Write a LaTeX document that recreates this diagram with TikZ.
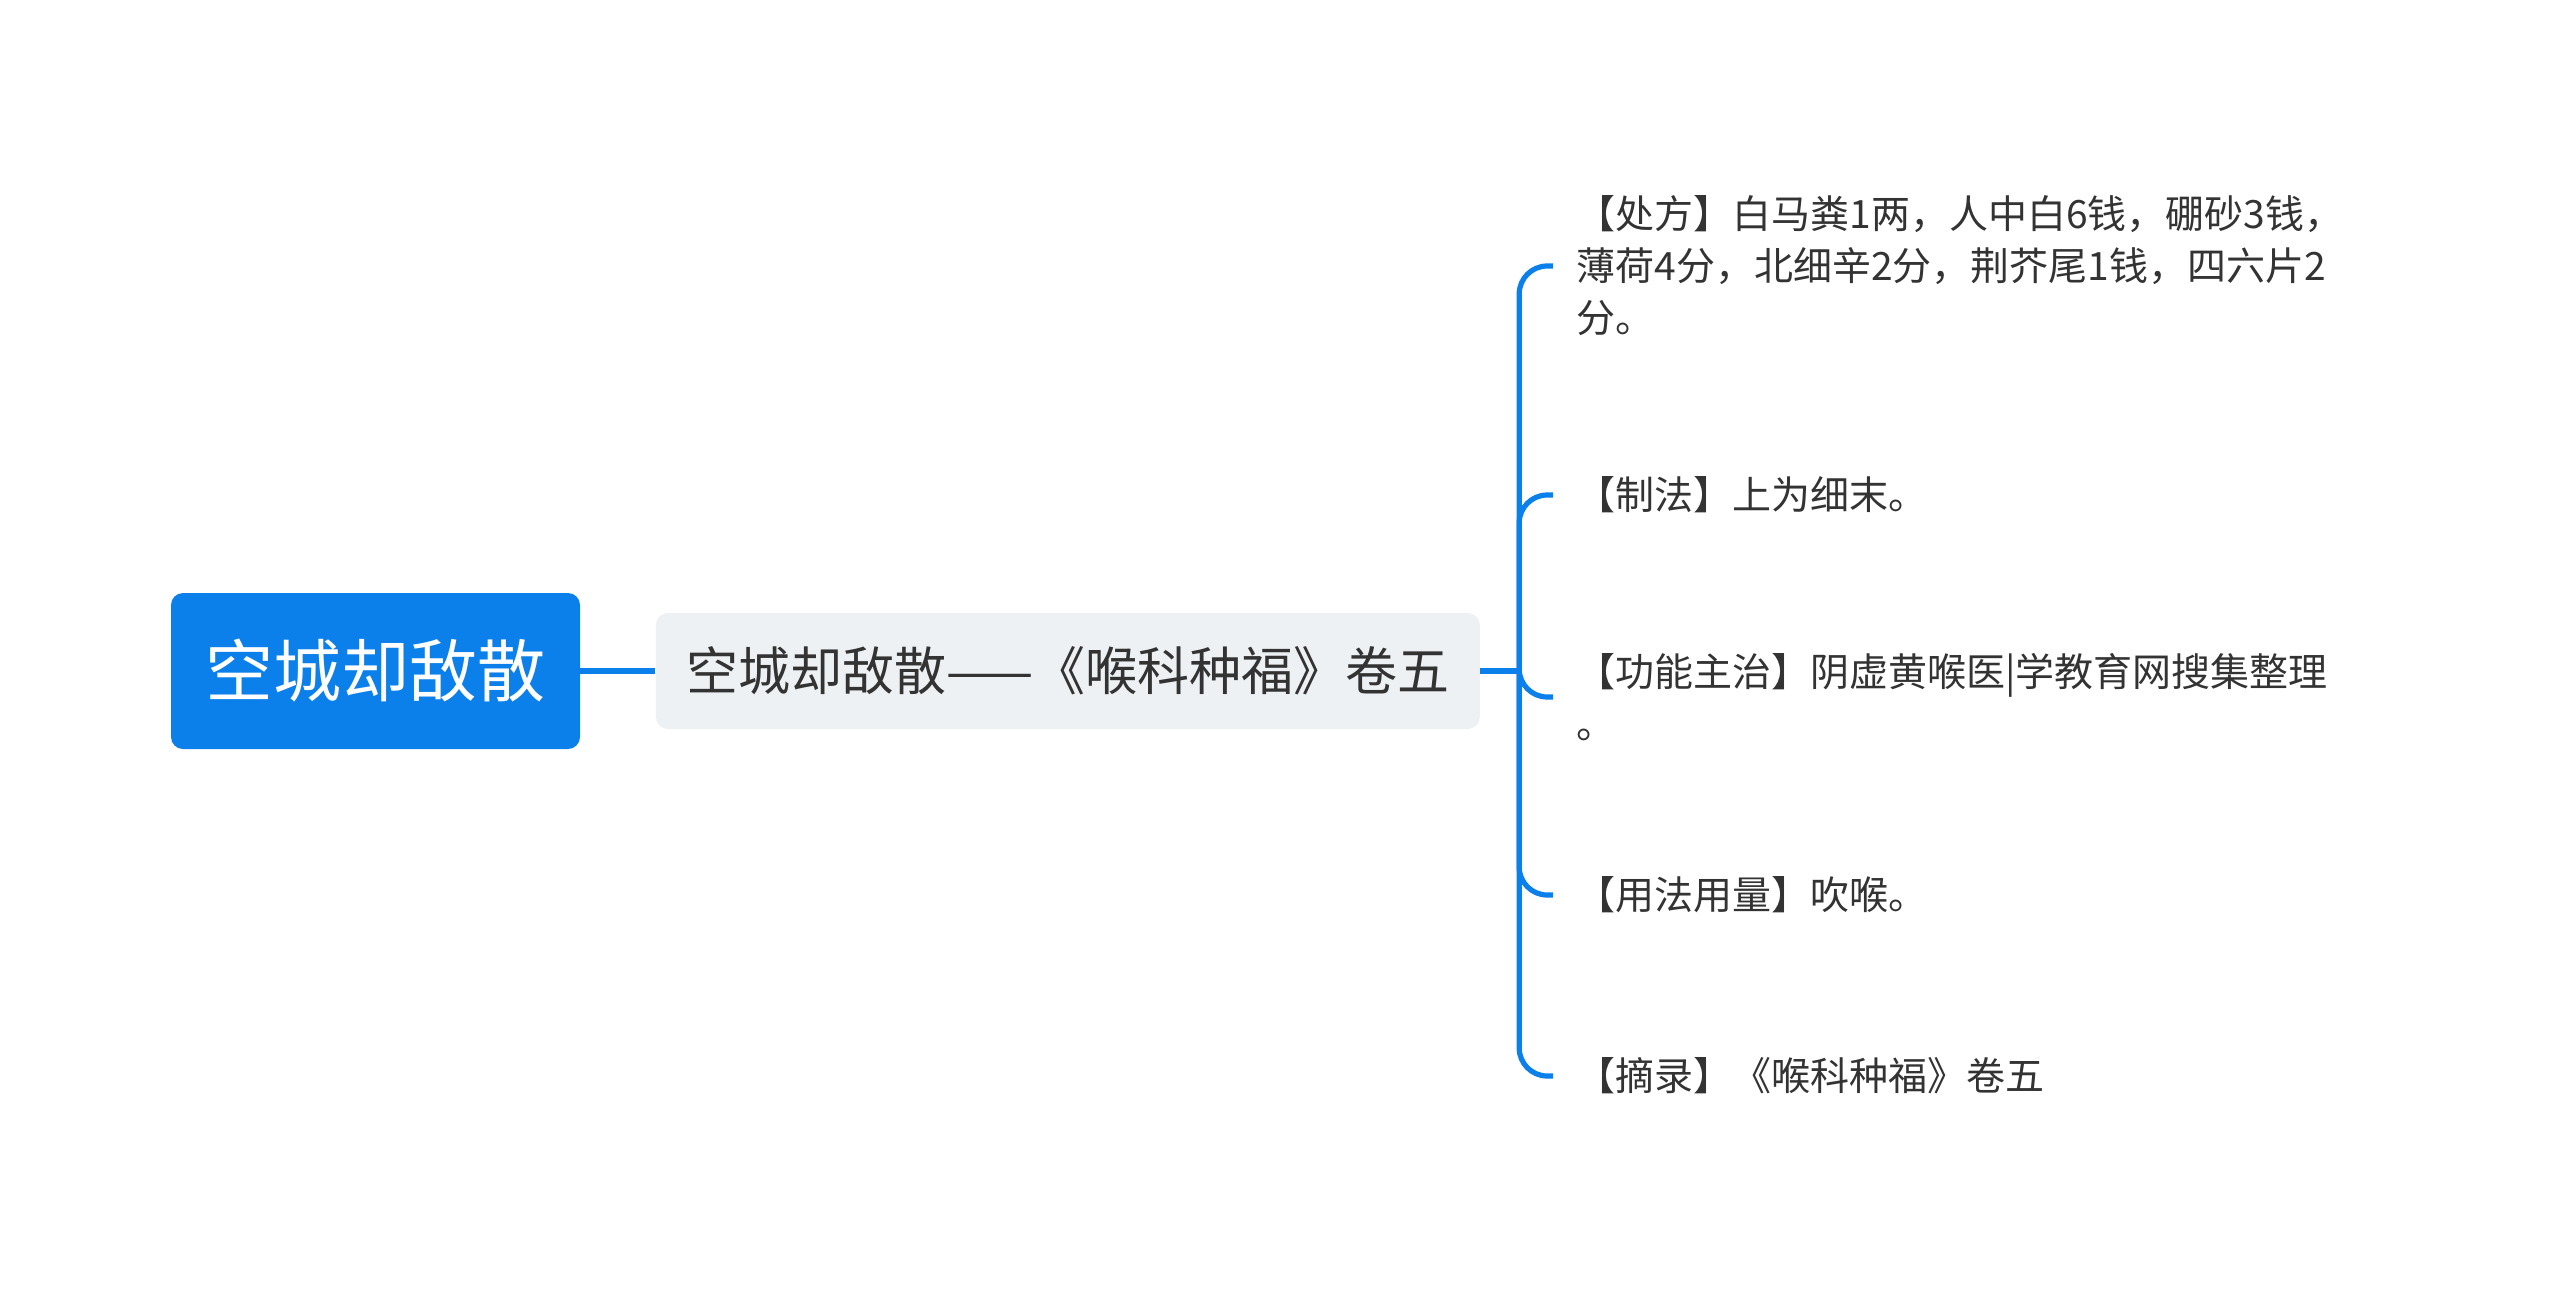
\documentclass[tikz,border=0pt]{standalone}
\usepackage{fontspec}
\setmainfont{Noto Sans CJK SC}
\usetikzlibrary{positioning}

\definecolor{mapblue}{HTML}{0B7FEA}
\definecolor{subgray}{HTML}{EEF1F4}
\definecolor{leaftext}{HTML}{333333}

\begin{document}
\begin{tikzpicture}[
x=0.5pt, y=-0.5pt,
node distance=37.5pt,
root/.style={
fill=mapblue,
rounded corners=6pt,
text=white,
font=\fontsize{34pt}{40pt}\selectfont,
minimum width=204.5pt,
minimum height=78pt,
inner sep=0pt
},
topic/.style={
fill=subgray,
rounded corners=6pt,
text=leaftext,
font=\fontsize{26pt}{32pt}\selectfont,
minimum width=412pt,
minimum height=58pt,
inner sep=0pt
},
leaf/.style={
anchor=west,
align=left,
inner xsep=11.5pt,
inner ysep=0pt,
text=leaftext,
font=\fontsize{19.5pt}{26pt}\selectfont
},
link/.style={draw=mapblue,line width=2.6pt},
branch/.style={link,rounded corners=14pt}
]
\useasboundingbox (0,0) rectangle (2560,1290);

% Root
\node[root] (root) at (375.5,671) {空城却敌散};

% Topic
\node[topic, right=of root] (topic) {空城却敌散——《喉科种福》卷五};
\coordinate[right=19.5pt of topic] (hub);

% Leaves
\node[leaf] (recipe) at (1553,266)
{【处方】白马粪1两，人中白6钱，硼砂3钱，\\薄荷4分，北细辛2分，荆芥尾1钱，四六片2\\分。};
\node[leaf] (method) at (1553,495) {【制法】上为细末。};
\node[leaf] (usage) at (1553,697)
{【功能主治】阴虚黄喉医|学教育网搜集整理\\。};
\node[leaf] (dose) at (1553,895) {【用法用量】吹喉。};
\node[leaf] (source) at (1553,1076) {【摘录】《喉科种福》卷五};

% Links
\draw[link] (root)--(topic);
\draw[link] (topic.east)--(hub);
\foreach \n in {recipe,method,usage,dose,source}
\draw[branch] (hub) |- (\n.west);

\end{tikzpicture}
\end{document}
